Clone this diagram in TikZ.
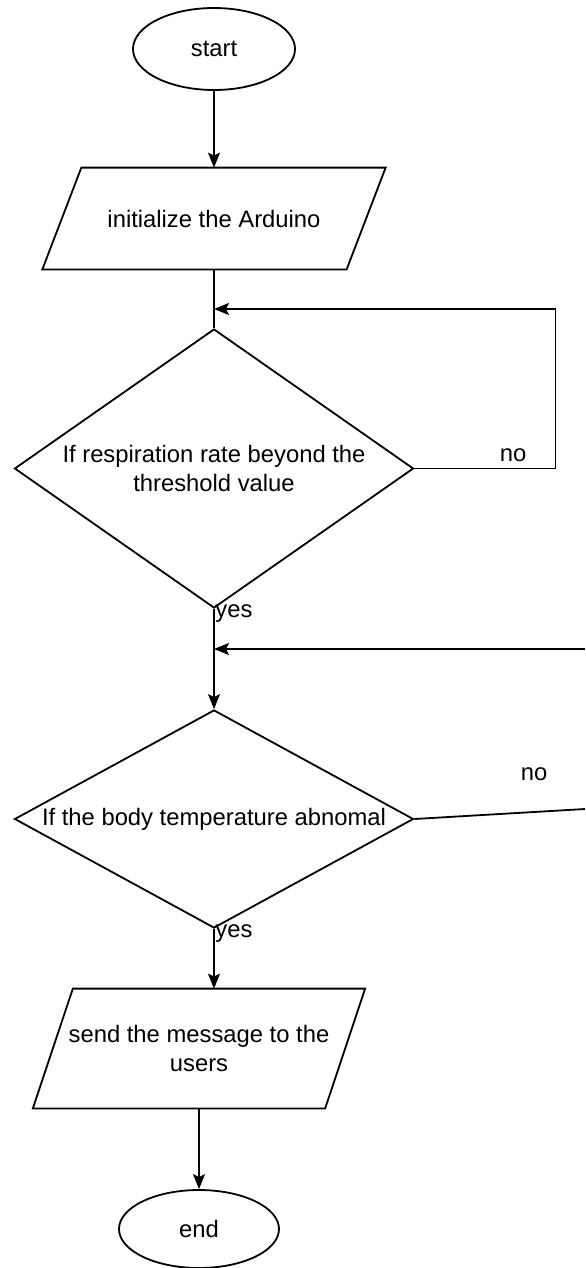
\documentclass[tikz,border=0pt]{standalone}
\usepackage{fontspec}
\setmainfont{Liberation Sans}
\usepackage{tikz}
\usetikzlibrary{shapes.geometric,arrows.meta}

\tikzset{
  term/.style={ellipse, draw, line width=0.9pt, minimum width=81pt, minimum height=41pt, inner sep=0pt},
  io/.style={rectangle, inner sep=0pt, align=center},
  decide/.style={diamond, draw, line width=0.9pt, minimum width=199.5pt, inner sep=0pt, align=center},
  flow/.style={line width=0.9pt},
  lbl/.style={inner sep=0pt}
}
% slanted outline round an io node: #1 = node, #2 = half the slant
\newcommand{\ioframe}[2]{%
  \draw[flow] ([xshift=-#2]#1.south west) -- ([xshift=#2]#1.north west)
    -- ([xshift=#2]#1.north east) -- ([xshift=-#2]#1.south east) -- cycle;}

\begin{document}
\begin{tikzpicture}[x=0.5pt,y=-0.5pt,font=\fontsize{11.9}{14.5}\selectfont,
		>={Stealth[length=7.5pt,width=6pt,inset=1.5pt]}]
		\useasboundingbox (0,0) rectangle (585,1268);
		\node[term] (start) at (214,49) {start};
		\node[io, minimum width=151.75pt, minimum height=50.5pt] (init) at (214,218.5) {initialize the Arduino};
		\node[decide, shape aspect=1.43, minimum height=139.5pt] (resp) at (214,468.5) {If respiration rate beyond the\\threshold value};
		\node[decide, shape aspect=1.83, minimum height=109pt] (temp) at (214,819) {If the body temperature abnomal};
		\node[io, minimum width=145.75pt, minimum height=59.5pt] (msg) at (199,1048.5) {send the message to the\\users};
		\node[term, minimum width=80pt, minimum height=39pt] (end) at (199,1229) {end};
		\ioframe{init}{9.75pt}
		\ioframe{msg}{10pt}
		%
		\node[lbl] (no1) at (513,455) {no};
		\node[lbl] (no2) at (534,774) {no};
		\node[lbl] (yes1) at (234,614) {yes};
		\node[lbl] (yes2) at (234,934) {yes};
		%
		\coordinate (loopin) at (214,309);
		\coordinate (backin) at (214,649);
		\coordinate (backfrom) at (585,649);
		\coordinate (noout) at (585,809);
		%
		\path[flow]
		(start) edge[->] (init)
		(init) edge (resp)
		(resp) edge[->] (temp)
		(backfrom) edge[->] (backin)
		(temp.east) edge (noout)
		(temp.south) edge[->] (temp.south |- msg.north)
		(msg) edge[->] (end);
		\draw[flow,->] (resp.east) -- ++(141,0) |- (loopin);
\end{tikzpicture}
\end{document}
